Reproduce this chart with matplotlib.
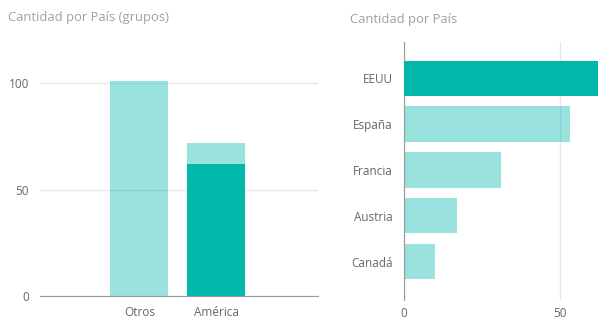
import matplotlib
matplotlib.use("Agg")
import matplotlib.pyplot as plt

# data
group_labels = ["Otros", "América"]
group_totals = [101, 72]
group_highlight = [0, 62]

countries = ["EEUU", "España", "Francia", "Austria", "Canadá"]
country_values = [62, 53, 31, 17, 10]
highlighted = "EEUU"

TEAL = "#01B8AA"
TEXT = "#666666"
TITLE = "#a0a0a0"
GRID = "#e6e6e6"
AXIS = "#999999"

plt.rcParams["font.family"] = ["Open Sans", "DejaVu Sans"]
plt.rcParams["font.size"] = 8.5

fig = plt.figure(figsize=(6.06, 3.28), dpi=100)

# left: grouped column chart
ax1 = fig.add_axes([0.066, 0.0976, 0.4587, 0.779])
xs = list(range(len(group_labels)))
ax1.bar(xs, group_totals, width=0.75, color=TEAL, alpha=0.4, zorder=2)
ax1.bar(xs, group_highlight, width=0.75, color=TEAL, zorder=3)
ax1.set_xlim(-1.29, 2.32)
ax1.set_ylim(0, 120)
ax1.set_yticks([0, 50, 100])
ax1.set_xticks(xs)
ax1.set_xticklabels(group_labels)
ax1.grid(axis="y", color=GRID, linewidth=1, zorder=0)
ax1.set_axisbelow(True)
for s in ["top", "right", "left"]:
    ax1.spines[s].set_visible(False)
ax1.spines["bottom"].set_color(AXIS)
ax1.tick_params(axis="both", length=0, colors=TEXT)
ax1.tick_params(axis="y", pad=8)
ax1.tick_params(axis="x", pad=7)
fig.text(8 / 606, 1 - 17 / 328, "Cantidad por País (grupos)", color=TITLE,
         fontsize=9.4, va="center", ha="left")

# right: horizontal bar chart by country
ax2 = fig.add_axes([0.6667, 0.0854, 0.3234, 0.7875])
ys = list(range(len(countries)))
ax2.barh(ys, country_values, height=0.77, color=TEAL, alpha=0.4, zorder=2)
hl = [v if c == highlighted else 0 for c, v in zip(countries, country_values)]
ax2.barh(ys, hl, height=0.77, color=TEAL, zorder=3)
ax2.set_ylim(4.84, -0.8)
ax2.set_xlim(0, 62.7)
ax2.set_xticks([0, 50])
ax2.set_yticks(ys)
ax2.set_yticklabels(countries)
ax2.grid(axis="x", color=GRID, linewidth=1, zorder=0)
ax2.set_axisbelow(True)
for s in ["top", "right", "bottom"]:
    ax2.spines[s].set_visible(False)
ax2.spines["left"].set_color(AXIS)
ax2.tick_params(axis="both", length=0, colors=TEXT)
ax2.tick_params(axis="y", pad=8)
ax2.tick_params(axis="x", pad=5)
fig.text(350 / 606, 1 - 19 / 328, "Cantidad por País", color=TITLE,
         fontsize=9.4, va="center", ha="left")

fig.savefig("out.png", dpi=100)
